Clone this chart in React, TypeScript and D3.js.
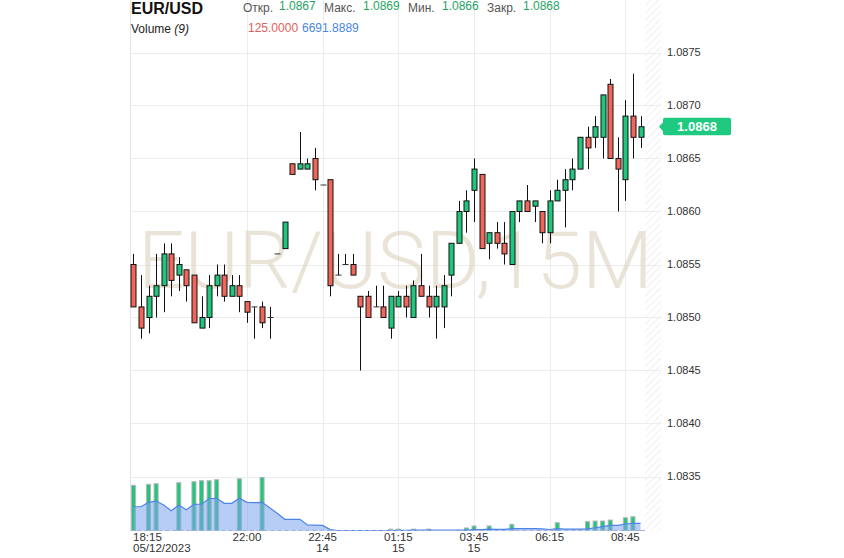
import React from "react";
import * as d3 from "d3";

const W = 844;
const H = 558;

const opens = [1.0855,1.0851,1.0850,1.0852,1.0853,1.0856,1.0854,1.08545,1.0854,1.0849,1.0850,1.0853,1.0854,1.0852,1.0853,1.08515,1.0851,1.0851,1.0850,1.0856,1.08565,1.08645,1.0864,1.0864,1.0865,1.08625,1.0863,1.0854,1.0855,1.0855,1.0852,1.0852,1.0851,1.0851,1.0849,1.0851,1.0852,1.0850,1.0853,1.0852,1.0851,1.0851,1.0854,1.0857,1.0860,1.0862,1.08635,1.0857,1.0858,1.0857,1.0855,1.0860,1.0861,1.08605,1.0860,1.0858,1.0861,1.0862,1.0863,1.0864,1.0867,1.0867,1.0867,1.0872,1.0865,1.0863,1.0869,1.0867];
const closes = [1.0851,1.0849,1.0852,1.0853,1.0856,1.08535,1.0855,1.0853,1.08495,1.0850,1.0853,1.0854,1.0852,1.0853,1.0852,1.08505,1.0851,1.08495,1.0850,1.0856,1.0859,1.08635,1.08645,1.08645,1.0863,1.08625,1.0853,1.0854,1.0855,1.0854,1.0851,1.0850,1.0851,1.0850,1.0852,1.0852,1.0851,1.0853,1.0852,1.0851,1.0852,1.0853,1.0857,1.0860,1.0861,1.0864,1.08565,1.0858,1.0857,1.0856,1.0860,1.0861,1.0860,1.0861,1.0858,1.0861,1.0862,1.0863,1.0864,1.0867,1.0866,1.0868,1.0871,1.0865,1.0864,1.0869,1.0867,1.0868];
const highs = [1.0856,1.0854,1.0853,1.0856,1.0857,1.0857,1.08557,1.08545,1.0854,1.0852,1.0854,1.0855,1.0855,1.0854,1.0854,1.08515,1.0851,1.08515,1.0851,1.0856,1.0859,1.08645,1.08675,1.0865,1.0866,1.08625,1.0863,1.0856,1.0856,1.0856,1.0852,1.08525,1.0853,1.0853,1.0852,1.08525,1.0853,1.08535,1.0856,1.0853,1.0853,1.0854,1.0857,1.0861,1.0862,1.0865,1.08635,1.0858,1.0859,1.0859,1.0860,1.0861,1.08625,1.0861,1.0860,1.0862,1.0863,1.0864,1.0865,1.0867,1.0868,1.0869,1.0871,1.08725,1.0867,1.08705,1.0873,1.0869];
const lows = [1.0851,1.0848,1.08485,1.0850,1.08505,1.0852,1.08525,1.08515,1.08495,1.0849,1.0849,1.0852,1.08515,1.0852,1.08505,1.08495,1.0848,1.0849,1.0848,1.0856,1.08565,1.08635,1.0864,1.0864,1.0862,1.08625,1.0852,1.0854,1.0855,1.0854,1.0845,1.0850,1.0851,1.0850,1.0848,1.0851,1.0850,1.0850,1.0852,1.0850,1.0848,1.0849,1.0852,1.0857,1.0858,1.0859,1.08565,1.08555,1.08565,1.0855,1.0855,1.0859,1.0860,1.0859,1.0857,1.0857,1.0861,1.08585,1.0862,1.0864,1.0864,1.0866,1.0865,1.0865,1.0860,1.0861,1.0865,1.0866];

const volumes = [41300,0,42200,42800,0,0,43700,0,44600,45500,45500,46400,0,0,47300,0,0,48600,0,0,0,0,0,0,0,0,0,0,0,0,0,0,0,0,1400,1400,0,1400,0,1400,0,0,0,0,2500,4300,0,4300,0,0,5800,0,0,0,0,0,7300,0,0,0,8200,8800,8800,9700,0,11800,12700,125];
const volumeMA = [21800,21800,25800,27000,23400,18200,23100,19100,24000,24300,29100,29500,24900,24900,29500,25800,25500,25800,20900,15800,10400,10400,10400,5200,5000,4800,1000,100,100,100,100,100,100,100,160,310,310,470,470,620,620,620,620,470,590,1060,900,1380,1230,1230,1880,1880,1880,1800,1600,1100,1900,1500,1500,1500,1700,2700,3700,4800,4800,6100,6700,6692];

const priceTicks = [1.0835, 1.084, 1.0845, 1.085, 1.0855, 1.086, 1.0865, 1.087, 1.0875];
const timeLabelIdx = [0, 15, 25, 35, 45, 55, 65];
const timeLabels = ["18:15", "22:00", "22:45", "01:15", "03:45", "06:15", "08:45"];
const dateLabels = ["05/12/2023", "", "14", "15", "15", "", ""];

const headerLabels = ["Откр.", "Макс.", "Мин.", "Закр."];
const headerValues = ["1.0867", "1.0869", "1.0866", "1.0868"];
const lastPrice = 1.0868;

const FONT = "'Liberation Sans', Arial, sans-serif";
const GREEN = "#1fc67c";
const RED = "#f1665b";

export default function App() {
  const plotLeft = 130.5;
  const plotRight = 645;
  const plotBottom = 531;
  const hatchRight = 661;

  const x = d3.scaleLinear().domain([0, opens.length - 1]).range([133.4, 640.5]);
  const y = d3.scaleLinear().domain([1.0835, 1.0875]).range([476.5, 52.5]);
  const yV = d3.scaleLinear().domain([0, 50000]).range([530.7, 475.8]);

  const area = d3
    .area<number>()
    .x((_, i) => x(i))
    .y0(yV(0))
    .y1((d) => yV(d));
  const line = d3
    .line<number>()
    .x((_, i) => x(i))
    .y((d) => yV(d));

  const headerLabelX = [243, 324, 408, 487];
  const headerValueX = [279, 363, 442, 523];

  return (
    <svg
      width={W}
      height={H}
      style={{ position: "absolute", left: 0, top: 0, background: "#fff" }}
      fontFamily={FONT}
    >
      <defs>
        <pattern id="hatch" width="5" height="5" patternUnits="userSpaceOnUse" patternTransform="rotate(45)">
          <line x1="0" y1="0" x2="0" y2="5" stroke="#e6e6e6" strokeWidth="1.2" />
        </pattern>
        <clipPath id="plotClip">
          <rect x={plotLeft} y={0} width={plotRight - plotLeft} height={plotBottom} />
        </clipPath>
      </defs>

      {/* hatch strip */}
      <rect x={plotRight} y={0} width={hatchRight - plotRight} height={plotBottom} fill="url(#hatch)" />

      {/* grid */}
      {priceTicks.map((t) => (
        <line key={"h" + t} x1={plotLeft} x2={hatchRight} y1={Math.round(y(t)) + 0.5} y2={Math.round(y(t)) + 0.5} stroke="#ececec" />
      ))}
      {timeLabelIdx.slice(1).map((idx) => (
        <line key={"v" + idx} x1={Math.round(x(idx)) + 0.5} x2={Math.round(x(idx)) + 0.5} y1={0} y2={plotBottom} stroke="#ececec" />
      ))}
      <line x1={plotLeft} x2={plotLeft} y1={0} y2={plotBottom} stroke="#e4e4e4" />

      {/* watermark */}
      <text
        x={138}
        y={288}
        fontFamily="Roboto, 'Liberation Sans', sans-serif"
        fontWeight={300}
        fontSize={80}
        fill="#e0d9c6"
        fillOpacity={0.7}
        textLength={515}
        lengthAdjust="spacingAndGlyphs"
      >
        EUR/USD,15M
      </text>

      {/* volume */}
      <g clipPath="url(#plotClip)">
        {volumes.map((v, i) =>
          v > 0 ? (
            <rect
              key={"vb" + i}
              x={x(i) - 2}
              y={yV(v)}
              width={4}
              height={Math.max(yV(0) - yV(v), 1)}
              fill="#1fc67c"
              stroke="#b4b4b4"
              strokeWidth={1}
            />
          ) : null
        )}
        <path d={area(volumeMA) || ""} fill="#7ea4ee" fillOpacity={0.55} />
        <path d={line(volumeMA) || ""} fill="none" stroke="#4c84ea" strokeWidth={1.2} />
        <line x1={plotLeft} x2={plotRight} y1={530.5} y2={530.5} stroke="#9fb4dc" strokeDasharray="4,3" />
      </g>

      {/* candles */}
      <g>
        {opens.map((o, i) => {
          const c = closes[i];
          const cx = Math.round(x(i)) + 0.5;
          const up = c >= o;
          const yTop = y(Math.max(o, c));
          const yBot = y(Math.min(o, c));
          const flat = Math.abs(o - c) < 1e-9;
          return (
            <g key={"c" + i}>
              {highs[i] - lows[i] > 1e-9 && (
                <line x1={cx} x2={cx} y1={y(highs[i])} y2={y(lows[i])} stroke="#111" strokeWidth={1} />
              )}
              {flat ? (
                <line x1={cx - 3} x2={cx + 3} y1={yTop} y2={yTop} stroke="#333" strokeWidth={1} />
              ) : (
                <rect
                  x={cx - 2.5}
                  y={yTop}
                  width={5}
                  height={yBot - yTop}
                  fill={up ? GREEN : RED}
                  stroke="#111"
                  strokeWidth={1}
                />
              )}
            </g>
          );
        })}
      </g>

      {/* price axis labels */}
      {priceTicks.map((t) => (
        <text key={"pt" + t} x={667} y={y(t)} dy="0.35em" fontSize={11} fill="#333">
          {t.toFixed(4)}
        </text>
      ))}

      {/* last price tag */}
      <path
        d={`M${659},${y(lastPrice)} L${663.5},${y(lastPrice) - 5} L${663.5},${y(lastPrice) + 5} Z`}
        fill="#1fc97f"
      />
      <rect x={663} y={y(lastPrice) - 9} width={68} height={17.5} rx={2} fill="#1fc97f" />
      <text x={697} y={y(lastPrice)} dy="0.36em" textAnchor="middle" fontSize={13} fontWeight="bold" fill="#fff">
        {lastPrice.toFixed(4)}
      </text>

      {/* time axis */}
      {timeLabelIdx.map((idx, k) => {
        const first = k === 0;
        const tx = first ? 133 : x(idx);
        const anchor = first ? "start" : "middle";
        return (
          <g key={"tl" + k}>
            <text x={tx} y={541} textAnchor={anchor} fontSize={11.5} fill="#333">
              {timeLabels[k]}
            </text>
            {dateLabels[k] && (
              <text x={tx} y={552} textAnchor={anchor} fontSize={11.5} fill="#333">
                {dateLabels[k]}
              </text>
            )}
          </g>
        );
      })}

      {/* header */}
      <text x={131} y={13.5} fontSize={16} fontWeight="bold" fill="#111">
        EUR/USD
      </text>
      {headerLabels.map((l, i) => (
        <g key={"hl" + i}>
          <text x={headerLabelX[i]} y={11.5} fontSize={12} fill="#555">
            {l}
          </text>
          <text x={headerValueX[i]} y={9.5} fontSize={12} fill="#1ea463">
            {headerValues[i]}
          </text>
        </g>
      ))}
      <text x={131} y={33} fontSize={12} fill="#222">
        Volume <tspan fontStyle="italic">(9)</tspan>
      </text>
      <text x={248} y={31.5} fontSize={12} fill="#e0605a">
        125.0000
      </text>
      <text x={302} y={31.5} fontSize={12} fill="#4a86e8">
        6691.8889
      </text>
    </svg>
  );
}
